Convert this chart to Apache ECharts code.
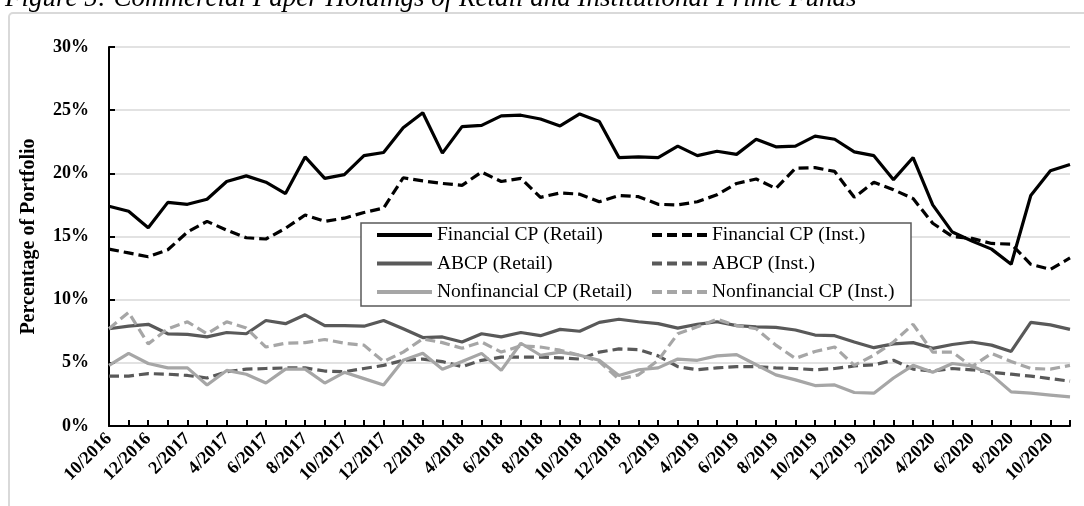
<!DOCTYPE html>
<html>
<head>
<meta charset="utf-8">
<script src="https://cdn.jsdelivr.net/npm/echarts@6/dist/echarts.min.js"></script>
<style>
  html, body { margin: 0; padding: 0; background: #fff; }
  #main { width: 1084px; height: 506px; }
</style>
</head>
<body>
<div id="main"></div>
<script>
// months, 10/2016 .. 11/2020
let months = ['10/2016','11/2016','12/2016','1/2017','2/2017','3/2017','4/2017','5/2017','6/2017','7/2017',
  '8/2017','9/2017','10/2017','11/2017','12/2017','1/2018','2/2018','3/2018','4/2018','5/2018',
  '6/2018','7/2018','8/2018','9/2018','10/2018','11/2018','12/2018','1/2019','2/2019','3/2019',
  '4/2019','5/2019','6/2019','7/2019','8/2019','9/2019','10/2019','11/2019','12/2019','1/2020',
  '2/2020','3/2020','4/2020','5/2020','6/2020','7/2020','8/2020','9/2020','10/2020','11/2020'];

// percent of portfolio
let finRetail = [17.4,17.0,15.7,17.7,17.55,17.95,19.35,19.8,19.3,18.4,
  21.3,19.6,19.9,21.4,21.65,23.6,24.8,21.6,23.7,23.8,
  24.55,24.6,24.3,23.75,24.7,24.1,21.25,21.3,21.25,22.15,
  21.4,21.75,21.5,22.7,22.1,22.15,22.95,22.7,21.7,21.4,
  19.5,21.25,17.5,15.35,14.65,14.0,12.8,18.25,20.2,20.7];
let finInst = [14.0,13.7,13.4,13.95,15.35,16.2,15.5,14.9,14.8,15.65,
  16.7,16.2,16.45,16.9,17.25,19.65,19.4,19.2,19.05,20.1,
  19.35,19.6,18.1,18.45,18.35,17.75,18.25,18.15,17.55,17.5,
  17.75,18.3,19.2,19.55,18.8,20.4,20.45,20.15,18.1,19.3,
  18.7,18.0,16.05,15.0,14.85,14.45,14.4,12.8,12.4,13.3];
let abcpRetail = [7.7,7.9,8.05,7.3,7.25,7.05,7.4,7.3,8.35,8.1,
  8.8,7.95,7.95,7.9,8.35,7.7,7.0,7.05,6.65,7.3,
  7.05,7.4,7.15,7.65,7.5,8.2,8.45,8.25,8.1,7.75,
  8.05,8.25,7.95,7.85,7.8,7.6,7.2,7.15,6.65,6.2,
  6.5,6.6,6.15,6.45,6.65,6.4,5.9,8.2,8.0,7.65];
let abcpInst = [3.95,3.95,4.15,4.1,4.0,3.8,4.3,4.5,4.55,4.6,
  4.6,4.35,4.3,4.55,4.8,5.2,5.3,5.1,4.7,5.2,
  5.45,5.45,5.45,5.4,5.3,5.85,6.1,6.05,5.55,4.7,
  4.45,4.6,4.7,4.7,4.6,4.55,4.45,4.55,4.75,4.85,
  5.2,4.5,4.35,4.55,4.45,4.25,4.1,3.95,3.75,3.55];
let nonfinRetail = [4.8,5.75,4.95,4.6,4.6,3.25,4.4,4.1,3.4,4.5,
  4.5,3.4,4.25,3.75,3.25,5.2,5.75,4.5,5.1,5.75,
  4.4,6.55,5.6,5.85,5.6,5.2,4.0,4.45,4.6,5.3,
  5.2,5.55,5.65,4.85,4.05,3.65,3.2,3.25,2.65,2.6,
  3.8,4.8,4.25,4.95,4.75,4.05,2.7,2.6,2.45,2.3];
let nonfinInst = [7.7,9.0,6.5,7.7,8.25,7.3,8.25,7.75,6.25,6.55,
  6.6,6.85,6.55,6.4,5.1,5.85,6.9,6.6,6.15,6.65,
  5.85,6.35,6.25,6.0,5.6,5.1,3.7,4.05,5.2,7.3,
  7.85,8.45,7.95,7.7,6.4,5.35,5.9,6.25,4.8,5.6,
  6.65,8.05,5.85,5.85,4.7,5.75,5.1,4.55,4.5,4.8];

let font = '"Liberation Serif", "Times New Roman", serif';
let dash = [10, 5];

function mkLine(name, data, color, dashed) {
  return {
    name: name,
    type: 'line',
    data: data,
    symbol: 'none',
    lineStyle: { color: color, width: 3.2, type: dashed ? dash : 'solid' },
    itemStyle: { color: color },
    z: 2
  };
}

// legend columns (retail left, inst right)
let legendCol = function(names, left){
  return {
    data: names,
    orient: 'vertical', left: left, top: 225,
    itemWidth: 55, itemHeight: 14, itemGap: 8.5, padding: 0,
    itemStyle: { opacity: 0 },
    lineStyle: { width: 4 },
    textStyle: { fontFamily: font, fontSize: 19.5, color: '#000', lineHeight: 20 }
  };
};

let myChart = echarts.init(document.getElementById('main'));
let option = {
  backgroundColor: '#fff',
  animation: false,
  title: {
    text: 'Figure 5: Commercial Paper Holdings of Retail and Institutional Prime Funds',
    left: 0,
    top: -20,
    textStyle: { fontFamily: font, fontStyle: 'italic', fontWeight: 'normal', fontSize: 27, color: '#000' }
  },
  graphic: [
    {
      type: 'rect', z: 0,
      shape: { x: 9, y: 13, width: 1200, height: 600, r: 4 },
      style: { fill: 'none', stroke: '#d9d9d9', lineWidth: 2 }
    },
    {
      type: 'rect', z: 3,
      shape: { x: 361, y: 223, width: 550, height: 83 },
      style: { fill: '#fff', stroke: '#595959', lineWidth: 1.5 }
    }
  ],
  grid: { left: 109, right: 14, top: 47, bottom: 80 },
  legend: [
    legendCol(['Financial CP (Retail)', 'ABCP (Retail)', 'Nonfinancial CP (Retail)'], 375),
    legendCol(['Financial CP (Inst.)', 'ABCP (Inst.)', 'Nonfinancial CP (Inst.)'], 650)
  ],
  xAxis: {
    type: 'category',
    data: months,
    boundaryGap: false,
    axisLine: { lineStyle: { color: '#000', width: 2 } },
    axisTick: { inside: true, length: 6, interval: 0, lineStyle: { color: '#000', width: 2 } },
    axisLabel: {
      interval: 1, rotate: 45, margin: 10,
      fontFamily: font, fontWeight: 'bold', fontSize: 18, color: '#000'
    },
    splitLine: { show: false }
  },
  yAxis: {
    type: 'value',
    min: 0, max: 30, interval: 5,
    name: 'Percentage of Portfolio',
    nameLocation: 'middle',
    nameGap: 70,
    nameTextStyle: { fontFamily: font, fontWeight: 'bold', fontSize: 20, color: '#000' },
    axisLine: { show: true, lineStyle: { color: '#000', width: 2 } },
    axisTick: { show: true, inside: true, length: 6, lineStyle: { color: '#000', width: 2 } },
    axisLabel: {
      formatter: '{value}%', margin: 20,
      fontFamily: font, fontWeight: 'bold', fontSize: 18, color: '#000'
    },
    splitLine: { lineStyle: { color: '#d9d9d9', width: 1.5 } }
  },
  series: [
    mkLine('Financial CP (Retail)', finRetail, '#000', false),
    mkLine('Financial CP (Inst.)', finInst, '#000', true),
    mkLine('ABCP (Retail)', abcpRetail, '#595959', false),
    mkLine('ABCP (Inst.)', abcpInst, '#595959', true),
    mkLine('Nonfinancial CP (Retail)', nonfinRetail, '#a6a6a6', false),
    mkLine('Nonfinancial CP (Inst.)', nonfinInst, '#a6a6a6', true)
  ]
};
myChart.setOption(option);
</script>
</body>
</html>
